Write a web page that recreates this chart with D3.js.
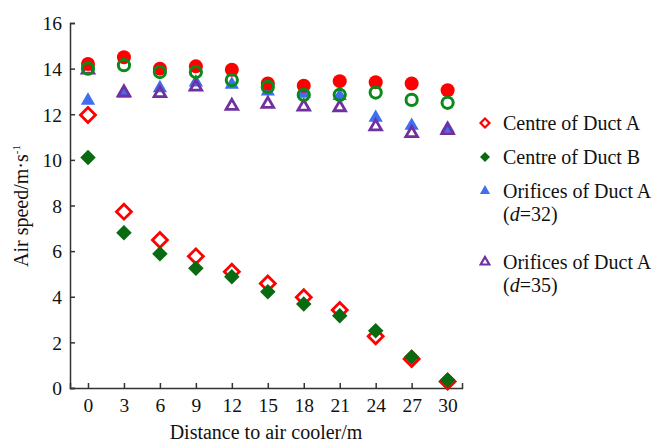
<!DOCTYPE html>
<html><head><meta charset="utf-8">
<script src="https://cdn.jsdelivr.net/npm/d3@7"></script>
<style>html,body{margin:0;padding:0;background:#fff;} svg{display:block;font-family:"Liberation Serif","Times New Roman",serif;}</style>
</head><body><svg id="c" width="654" height="443"></svg>
<script>
const distances = [0, 3, 6, 9, 12, 15, 18, 21, 24, 27, 30];
const xTicks = [0, 3, 6, 9, 12, 15, 18, 21, 24, 27, 30];
const yTicks = [0, 2, 4, 6, 8, 10, 12, 14, 16];
const redCircle   = [14.2, 14.5, 14.0, 14.1, 13.95, 13.35, 13.25, 13.45, 13.4, 13.35, 13.05];
const greenCircle = [14.0, 14.15, 13.85, 13.85, 13.5, 13.2, 12.85, 12.85, 12.95, 12.63, 12.5];
const blueTri     = [12.6, 12.9, 13.15, 13.4, 13.3, 13.0, 12.9, 12.8, 11.85, 11.5, 11.38];
const purpleTri   = [13.95, 12.95, 12.92, 13.2, 12.36, 12.45, 12.33, 12.3, 11.46, 11.17, 11.3];
const centreA     = [11.97, 7.73, 6.49, 5.77, 5.1, 4.58, 3.98, 3.42, 2.27, 1.27, 0.28];
const centreB     = [10.1, 6.81, 5.88, 5.25, 4.88, 4.22, 3.68, 3.17, 2.51, 1.36, 0.35];
const legendLabels = ["Centre of Duct A", "Centre of Duct B", "Orifices of Duct A", "Orifices of Duct A"];
const legendSub = ["", "", "32", "35"];

const svg = d3.select("#c");
const x = d3.scaleLinear().domain([-1.5, 31.2]).range([70, 462]);
const y = d3.scaleLinear().domain([0, 16]).range([388, 23]);

const axisColor = "#333";
const gx = svg.append("g").attr("transform", "translate(0,388)")
  .call(d3.axisBottom(x).tickValues(xTicks).tickSize(-5).tickSizeOuter(-5).tickPadding(10).tickFormat(d3.format("d")));
const gy = svg.append("g").attr("transform", "translate(70,0)")
  .call(d3.axisLeft(y).tickValues(yTicks).tickSize(-5).tickSizeOuter(-5).tickPadding(8).tickFormat(d3.format("d")));
[gx, gy].forEach(g => {
  g.selectAll("path,line").attr("stroke", axisColor).attr("stroke-width", 1.5);
  g.selectAll("text").attr("font-family", "Liberation Serif").attr("font-size", 19.5).attr("fill", "#111");
});
gy.selectAll("text").attr("dy", "0.35em");

svg.append("text").attr("x", 266).attr("y", 439).attr("text-anchor", "middle")
  .attr("font-size", 20).attr("fill", "#111").text("Distance to air cooler/m");
const yt = svg.append("text").attr("transform", "translate(28,206) rotate(-90)").attr("text-anchor", "middle")
  .attr("font-size", 20).attr("fill", "#111");
yt.append("tspan").text("Air speed/m\u00b7s");
yt.append("tspan").attr("font-size", 11).attr("dy", -8).text("-1");

function drawSeries(vals, opt) {
  const g = svg.append("g");
  g.selectAll("path").data(vals).join("path")
    .attr("d", opt.sym)
    .attr("transform", (v, i) => `translate(${x(distances[i])},${y(v)})${opt.rot ? " rotate(45)" : ""}`)
    .attr("fill", opt.fill).attr("stroke", opt.stroke || "none").attr("stroke-width", opt.sw || 0);
}
const triSolid = d3.symbol().type(d3.symbolTriangle).size(88)();
const triHollow = d3.symbol().type(d3.symbolTriangle).size(58)();
const circSolid = d3.symbol().type(d3.symbolCircle).size(Math.PI * 7 * 7)();
const circHollow = d3.symbol().type(d3.symbolCircle).size(Math.PI * 5.6 * 5.6)();
const diaHollow = d3.symbol().type(d3.symbolSquare).size(112)();
const diaSolid = d3.symbol().type(d3.symbolSquare).size(120)();

drawSeries(blueTri, {sym: triSolid, fill: "#3f6ff0"});
drawSeries(purpleTri, {sym: triHollow, fill: "none", stroke: "#7030a0", sw: 2.8});
drawSeries(redCircle, {sym: circSolid, fill: "#ff0000"});
drawSeries(greenCircle, {sym: circHollow, fill: "none", stroke: "#0a8a1a", sw: 3});
drawSeries(centreA, {sym: diaHollow, fill: "none", stroke: "#ff0000", sw: 2.8, rot: true});
drawSeries(centreB, {sym: diaSolid, fill: "#0a6a12", rot: true});

// legend
const legY = [123, 157, 191, 262];
const legSyms = [
  {sym: d3.symbol().type(d3.symbolSquare).size(40)(), fill: "none", stroke: "#ff0000", sw: 2.2, rot: true},
  {sym: d3.symbol().type(d3.symbolSquare).size(50)(), fill: "#0a6a12", rot: true},
  {sym: d3.symbol().type(d3.symbolTriangle).size(45)(), fill: "#3f6ff0"},
  {sym: d3.symbol().type(d3.symbolTriangle).size(32)(), fill: "none", stroke: "#7030a0", sw: 2.2}
];
legendLabels.forEach((lab, i) => {
  const s = legSyms[i];
  svg.append("path").attr("d", s.sym)
    .attr("transform", `translate(485,${legY[i]})${s.rot ? " rotate(45)" : ""}`)
    .attr("fill", s.fill).attr("stroke", s.stroke || "none").attr("stroke-width", s.sw || 0);
  svg.append("text").attr("x", 503).attr("y", legY[i]).attr("dy", "0.35em")
    .attr("font-size", 20).attr("fill", "#111").text(lab);
  if (legendSub[i]) {
    const t = svg.append("text").attr("x", 503).attr("y", legY[i] + 23).attr("dy", "0.35em")
      .attr("font-size", 20).attr("fill", "#111");
    t.append("tspan").text("(");
    t.append("tspan").attr("font-style", "italic").text("d");
    t.append("tspan").text("=" + legendSub[i] + ")");
  }
});
</script></body></html>
